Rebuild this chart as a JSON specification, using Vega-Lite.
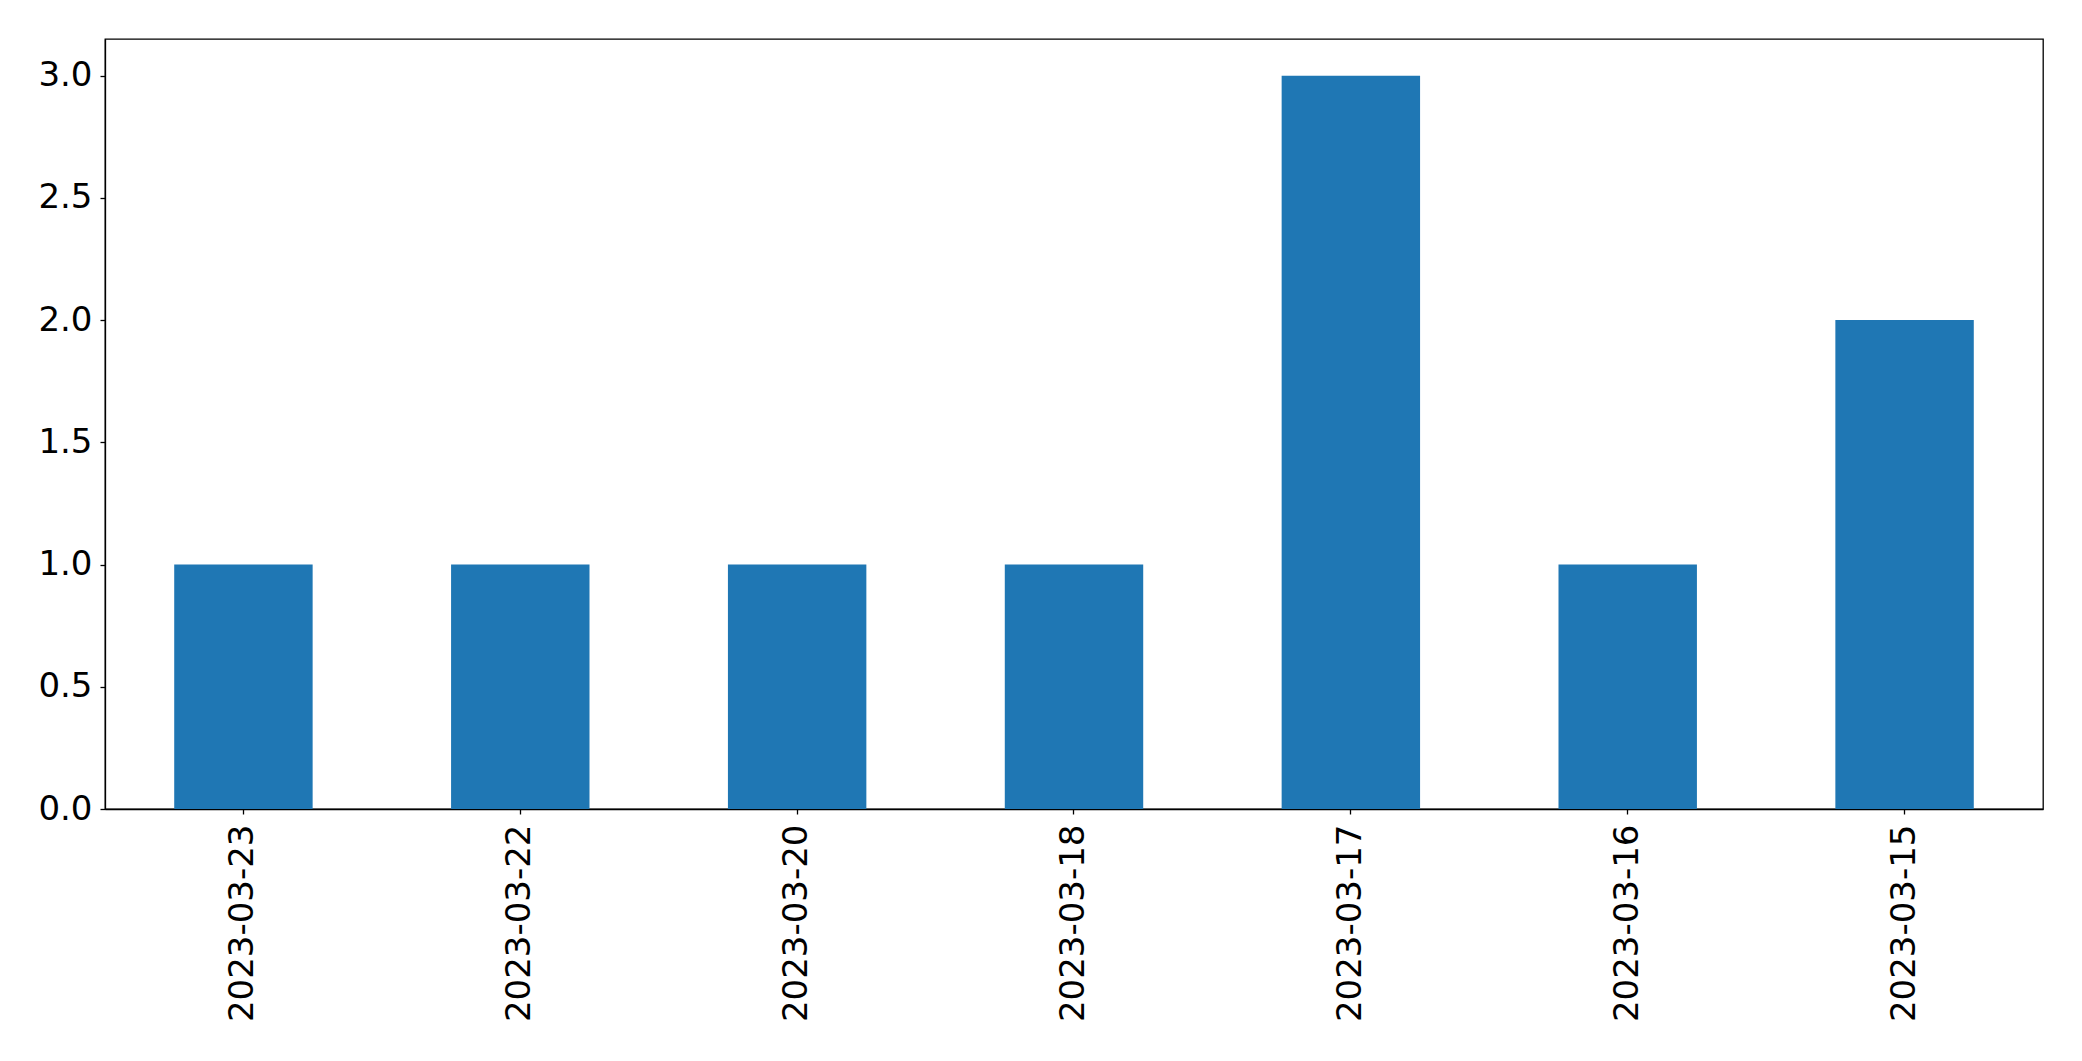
{
  "$schema": "https://vega.github.io/schema/vega-lite/v6.json",
  "width": 1938,
  "height": 770,
  "autosize": {"type": "none"},
  "padding": {"left": 105, "top": 39, "right": 39, "bottom": 252},
  "background": "white",
  "config": {
    "view": {"stroke": "black", "strokeWidth": 1.3},
    "font": "DejaVu Sans",
    "axis": {
      "grid": false,
      "domainColor": "black",
      "domainWidth": 1.3,
      "tickColor": "black",
      "tickWidth": 1.3,
      "tickSize": 5,
      "labelFont": "DejaVu Sans",
      "labelFontSize": 34,
      "labelColor": "black",
      "labelLimit": 0,
      "title": null
    }
  },
  "data": {
    "values": [
      {"date": "2023-03-23", "count": 1},
      {"date": "2023-03-22", "count": 1},
      {"date": "2023-03-20", "count": 1},
      {"date": "2023-03-18", "count": 1},
      {"date": "2023-03-17", "count": 3},
      {"date": "2023-03-16", "count": 1},
      {"date": "2023-03-15", "count": 2}
    ]
  },
  "mark": {"type": "bar", "color": "#1f77b4"},
  "encoding": {
    "x": {
      "field": "date",
      "type": "nominal",
      "sort": null,
      "scale": {"paddingInner": 0.5, "paddingOuter": 0.25},
      "axis": {"labelAngle": -90, "labelPadding": 10, "labelLimit": 0, "title": null}
    },
    "y": {
      "field": "count",
      "type": "quantitative",
      "scale": {"domain": [0, 3.15], "nice": false, "zero": true},
      "axis": {"values": [0, 0.5, 1, 1.5, 2, 2.5, 3], "format": ".1f", "labelPadding": 8, "title": null}
    }
  }
}
